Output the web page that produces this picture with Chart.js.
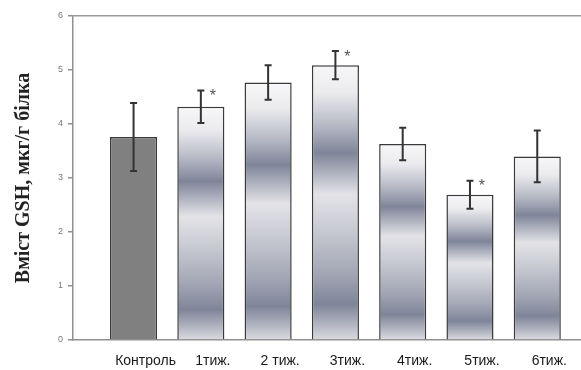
<!DOCTYPE html>
<html>
<head>
<meta charset="utf-8">
<script src="https://cdn.jsdelivr.net/npm/chart.js@4/dist/chart.umd.min.js"></script>
<style>
  html, body { margin: 0; padding: 0; background: #ffffff; }
  #wrap { width: 581px; height: 370px; }
</style>
</head>
<body>
<div id="wrap"><canvas id="c" width="581" height="370"></canvas></div>
<script>
// GSH content by group (mean ± error)
const categories = ['Контроль', '1тиж.', '2 тиж.', '3тиж.', '4тиж.', '5тиж.', '6тиж.'];
const values = [3.76, 4.32, 4.77, 5.09, 3.63, 2.69, 3.40];
const errors = [0.63, 0.30, 0.32, 0.26, 0.30, 0.26, 0.48];
const significant = [false, true, false, true, false, true, false];
const yTicks = [0, 1, 2, 3, 4, 5, 6];

// banded metallic fill for the weekly bars, stretched over each bar's height
function bandFill(ctx) {
  const chart = ctx.chart;
  const i = ctx.dataIndex;
  if (i === 0) return '#808080';
  const ys = chart.scales.y;
  if (!ys || ys.top === undefined) return '#b0b3be';
  const top = ys.getPixelForValue(values[i]);
  const bottom = ys.getPixelForValue(0);
  if (!isFinite(top) || !isFinite(bottom) || bottom <= top) return '#b0b3be';
  const g = chart.ctx.createLinearGradient(0, top, 0, bottom);
  g.addColorStop(0.00, '#f7f7f9');
  g.addColorStop(0.10, '#ebebee');
  g.addColorStop(0.22, '#b6b9c5');
  g.addColorStop(0.32, '#7f8599');
  g.addColorStop(0.40, '#b4b7c3');
  g.addColorStop(0.47, '#e3e3e7');
  g.addColorStop(0.60, '#c8cad2');
  g.addColorStop(0.76, '#a2a6b4');
  g.addColorStop(0.87, '#7f8599');
  g.addColorStop(0.95, '#b6b9c4');
  g.addColorStop(1.00, '#dcdce1');
  return g;
}

// error bars and significance marks
const errorBars = {
  id: 'errorBars',
  afterDatasetsDraw(chart) {
    const c = chart.ctx;
    const xs = chart.scales.x, ys = chart.scales.y;
    c.save();
    c.strokeStyle = '#333333';
    c.lineWidth = 2;
    values.forEach((v, i) => {
      const x = xs.getPixelForValue(i);
      const yt = ys.getPixelForValue(v + errors[i]);
      const yb = ys.getPixelForValue(v - errors[i]);
      c.beginPath();
      c.moveTo(x, yt); c.lineTo(x, yb);
      c.moveTo(x - 3.5, yt); c.lineTo(x + 3.5, yt);
      c.moveTo(x - 3.5, yb); c.lineTo(x + 3.5, yb);
      c.stroke();
      if (significant[i]) {
        c.fillStyle = '#555555';
        c.font = '16px "Liberation Sans", Arial, sans-serif';
        c.textAlign = 'center';
        c.textBaseline = 'middle';
        c.fillText('*', x + 12, yt + 6);
      }
    });
    c.restore();
  }
};

new Chart(document.getElementById('c'), {
  type: 'bar',
  data: {
    datasets: [{
      data: values.map((v, i) => ({ x: i, y: v })),
      backgroundColor: bandFill,
      borderColor: '#3a3a3a',
      borderWidth: 1.5,
      barPercentage: 0.7,
      categoryPercentage: 1.0
    }]
  },
  options: {
    responsive: false,
    animation: false,
    devicePixelRatio: 1,
    layout: { padding: { top: 16, right: 0, left: 0, bottom: 0 } },
    plugins: { legend: { display: false }, tooltip: { enabled: false } },
    scales: {
      x: {
        type: 'linear',
        position: 'bottom',
        min: -0.9,
        max: 6.65,
        offset: false,
        afterBuildTicks: (s) => { s.ticks = categories.map((_, i) => ({ value: i })); },
        afterFit: (s) => { s.height = 30; },
        grid: { display: false, drawTicks: false },
        border: { display: true, color: '#909090', width: 1.5 },
        ticks: {
          autoSkip: false,
          maxRotation: 0,
          padding: 13,
          labelOffset: 12,
          color: '#1a1a1a',
          font: { family: '"Liberation Sans", Arial, sans-serif', size: 14 },
          callback: (v) => categories[v]
        }
      },
      y: {
        min: 0,
        max: 6,
        afterBuildTicks: (s) => { s.ticks = yTicks.map(v => ({ value: v })); },
        afterFit: (s) => { s.width = 73; },
        grid: {
          drawOnChartArea: true,
          drawTicks: true,
          tickLength: 5,
          lineWidth: 1.5,
          color: (ctx) => (ctx.tick && ctx.tick.value === 6 ? '#9a9a9a' : 'rgba(0,0,0,0)'),
          tickColor: '#909090'
        },
        border: { display: true, color: '#909090', width: 1.5 },
        ticks: {
          padding: 5,
          color: '#777777',
          font: { family: '"Liberation Sans", Arial, sans-serif', size: 9 }
        },
        title: {
          display: true,
          text: 'Вміст GSH, мкг/г білка',
          color: '#222222',
          padding: { top: 12, bottom: 0 },
          font: { family: '"Liberation Serif", "Times New Roman", serif', size: 20, weight: 'bold' }
        }
      }
    }
  },
  plugins: [errorBars]
});
</script>
</body>
</html>
